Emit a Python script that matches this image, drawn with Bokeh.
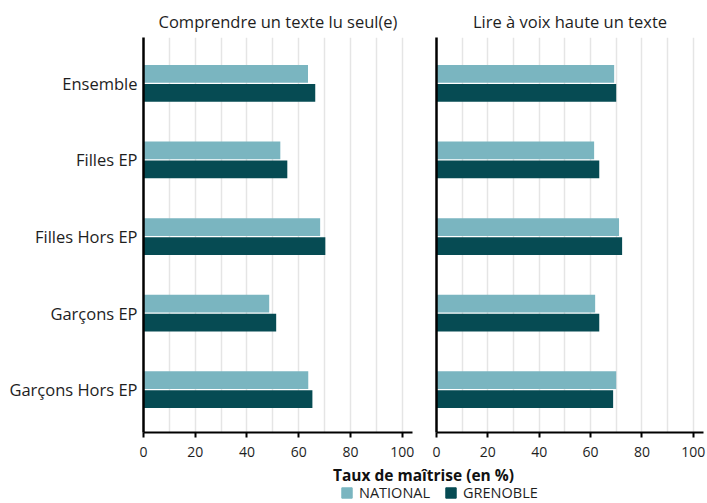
from bokeh.plotting import figure
from bokeh.models import (Range1d, FixedTicker, SingleIntervalTicker, ColumnDataSource,
                          Legend, LegendItem, Label)
from bokeh.layouts import column, row
from bokeh.embed import file_html
from bokeh.resources import INLINE

categories = ["Ensemble", "Filles EP", "Filles Hors EP", "Garçons EP", "Garçons Hors EP"]
series_names = ["NATIONAL", "GRENOBLE"]
panel_titles = ["Comprendre un texte lu seul(e)", "Lire à voix haute un texte"]
comprendre_national = [63.6, 52.9, 68.3, 48.6, 63.7]
comprendre_grenoble = [66.4, 55.6, 70.3, 51.3, 65.3]
lire_national = [69.2, 61.4, 71.1, 61.8, 70.0]
lire_grenoble = [70.0, 63.4, 72.3, 63.4, 68.8]
x_ticks = [0, 20, 40, 60, 80, 100]
x_axis_title = "Taux de maîtrise (en %)"

LIGHT = "#7ab5c0"
DARK = "#064b53"
FONT = "Open Sans"
TXT = "#1e1e1e"

pos = list(range(len(categories)))


def make_panel(title, nat, gre, show_labels, width, left, right):
    p = figure(width=width, height=465, output_backend="svg", toolbar_location=None,
               x_range=Range1d(0, 104), y_range=Range1d(4.56, -0.6),
               min_border_left=left, min_border_right=right,
               min_border_top=37, min_border_bottom=33)
    p.title.text = title
    p.title.align = "center"
    p.title.text_font = FONT
    p.title.text_font_size = "16.5px"
    p.title.text_font_style = "normal"
    p.title.text_color = TXT
    p.title.standoff = 9
    p.outline_line_color = None
    p.background_fill_color = "white"

    src = ColumnDataSource(dict(
        y_nat=[v - 0.124 for v in pos], y_gre=[v + 0.124 for v in pos],
        nat=nat, gre=gre))
    p.hbar(y="y_nat", right="nat", left=0, height=0.232, source=src,
           fill_color=LIGHT, line_color=None)
    p.hbar(y="y_gre", right="gre", left=0, height=0.232, source=src,
           fill_color=DARK, line_color=None)

    xa = p.xaxis[0]
    xa.ticker = FixedTicker(ticks=x_ticks)
    xa.axis_line_color = "black"
    xa.axis_line_width = 2
    xa.major_tick_line_color = "black"
    xa.major_tick_line_width = 2
    xa.major_tick_out = 5
    xa.major_tick_in = 0
    xa.minor_tick_line_color = None
    xa.major_label_text_font = FONT
    xa.major_label_text_font_size = "14px"
    xa.major_label_text_color = TXT
    xa.major_label_standoff = 9

    p.xgrid[0].ticker = SingleIntervalTicker(interval=10)
    p.xgrid[0].grid_line_color = "#e5e5e5"
    p.xgrid[0].grid_line_width = 1.5
    p.ygrid[0].grid_line_color = None

    ya = p.yaxis[0]
    ya.axis_line_color = "black"
    ya.axis_line_width = 2.5
    ya.major_tick_line_color = None
    ya.minor_tick_line_color = None
    ya.major_tick_out = 0
    ya.major_tick_in = 0
    if show_labels:
        ya.ticker = FixedTicker(ticks=pos)
        ya.major_label_overrides = {i: c for i, c in zip(pos, categories)}
        ya.major_label_text_font = FONT
        ya.major_label_text_font_size = "16.5px"
        ya.major_label_text_color = TXT
        ya.major_label_standoff = 6
    else:
        ya.ticker = FixedTicker(ticks=[])
    return p


p1 = make_panel(panel_titles[0], comprendre_national, comprendre_grenoble, True, 424, 143, 12)
p2 = make_panel(panel_titles[1], lire_national, lire_grenoble, False, 283, 12, 4)

footer = figure(width=707, height=38, output_backend="svg", toolbar_location=None,
                x_range=Range1d(0, 1), y_range=Range1d(0, 1),
                x_axis_type=None, y_axis_type=None,
                min_border_left=143, min_border_right=4, min_border_top=0, min_border_bottom=0)
footer.outline_line_color = None
footer.add_layout(Label(x=280, y=29, x_units="screen", y_units="screen",
                        text=x_axis_title, text_align="center", text_baseline="middle",
                        text_font=FONT, text_font_size="15.5px", text_font_style="bold",
                        text_color="#111111"))
r_nat = footer.vbar(x=[0], top=[0], width=0, fill_color=LIGHT, line_color=LIGHT)
r_gre = footer.vbar(x=[0], top=[0], width=0, fill_color=DARK, line_color=DARK)
legend = Legend(items=[LegendItem(label=series_names[0], renderers=[r_nat]),
                       LegendItem(label=series_names[1], renderers=[r_gre])],
                orientation="horizontal", location=(197, 1),
                glyph_width=13, glyph_height=13, label_standoff=6, spacing=14,
                padding=0, margin=0, border_line_color=None, background_fill_alpha=0,
                label_text_font=FONT, label_text_font_size="14.5px", label_text_color=TXT,
                label_height=16)
footer.add_layout(legend, "center")

layout = column(row(p1, p2), footer)
open("out.html", "w").write(file_html(layout, INLINE))
